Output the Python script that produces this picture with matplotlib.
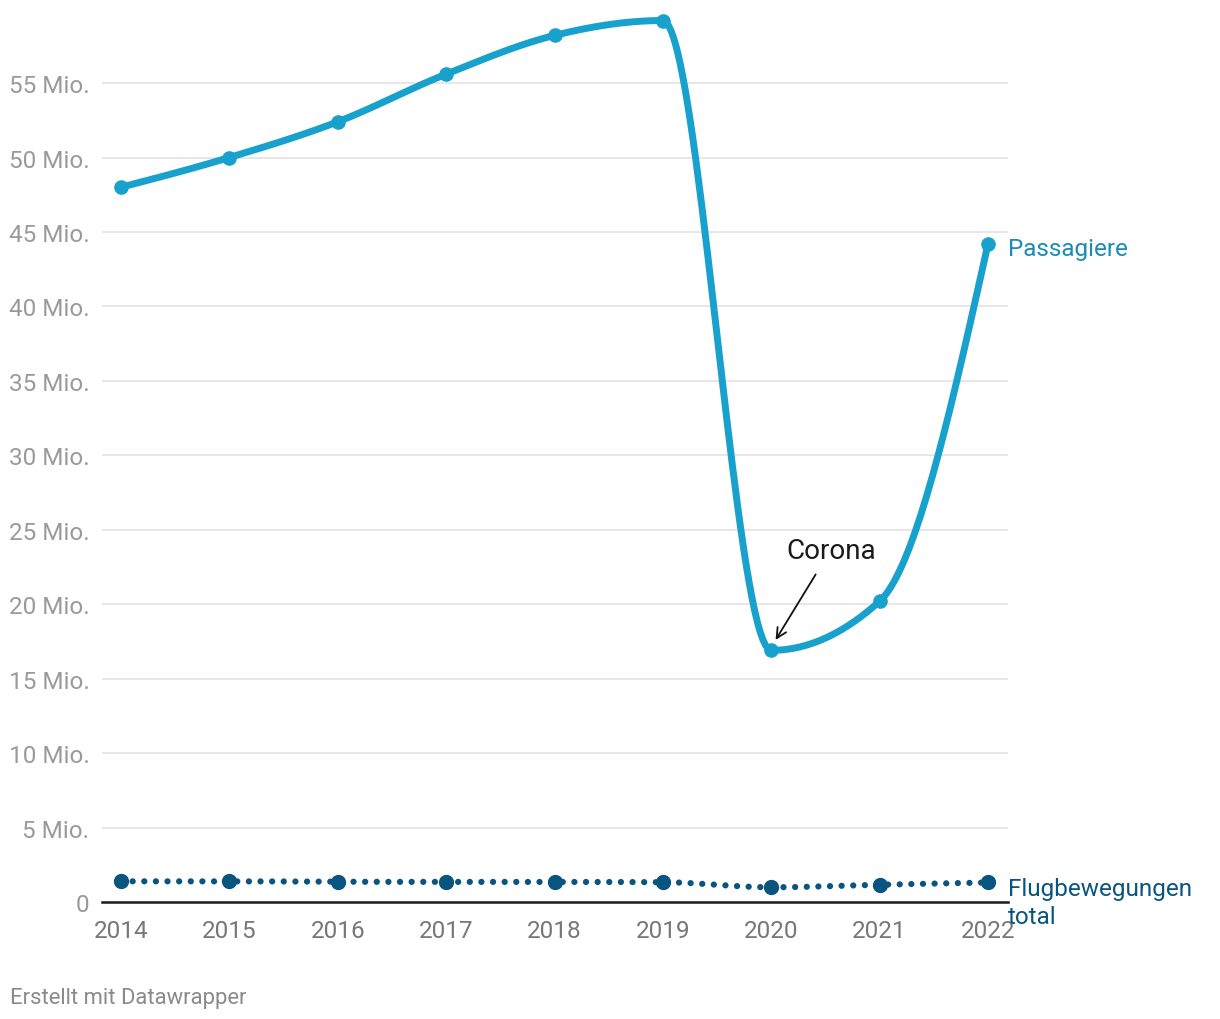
import matplotlib.pyplot as plt
import numpy as np

plt.rcParams['font.family'] = ['Roboto', 'DejaVu Sans']

# Daten (in Mio.)
years = [2014, 2015, 2016, 2017, 2018, 2019, 2020, 2021, 2022]
passagiere = [48.0, 50.0, 52.4, 55.6, 58.2, 59.2, 16.9, 20.2, 44.2]
flugbewegungen = [1.39, 1.39, 1.36, 1.35, 1.35, 1.33, 0.99, 1.16, 1.31]
y_ticks = [0, 5, 10, 15, 20, 25, 30, 35, 40, 45, 50, 55]
y_labels = ['0'] + [f'{v} Mio.' for v in y_ticks[1:]]

C_PASS = '#18a1cd'
C_PASS_TXT = '#1b8cb6'
C_FLUG = '#09557f'
FS = 17.5


def monotone_x(x, y, n=40):
    # wie d3.curveMonotoneX
    x = np.asarray(x, float)
    y = np.asarray(y, float)
    h = np.diff(x)
    s = np.diff(y) / h
    t = np.zeros(len(x))
    for i in range(1, len(x) - 1):
        p = (s[i - 1] * h[i] + s[i] * h[i - 1]) / (h[i - 1] + h[i])
        t[i] = (np.sign(s[i - 1]) + np.sign(s[i])) * min(abs(s[i - 1]), abs(s[i]), 0.5 * abs(p))
    t[0] = (3 * s[0] - t[1]) / 2
    t[-1] = (3 * s[-1] - t[-2]) / 2
    xs, ys = [], []
    for i in range(len(x) - 1):
        u = np.linspace(0, 1, n)
        dx = h[i]
        p0 = np.array([x[i], y[i]])
        p1 = np.array([x[i] + dx / 3, y[i] + dx * t[i] / 3])
        p2 = np.array([x[i + 1] - dx / 3, y[i + 1] - dx * t[i + 1] / 3])
        p3 = np.array([x[i + 1], y[i + 1]])
        b = ((1 - u) ** 3)[:, None] * p0 + (3 * (1 - u) ** 2 * u)[:, None] * p1 \
            + (3 * (1 - u) * u ** 2)[:, None] * p2 + (u ** 3)[:, None] * p3
        xs.extend(b[:, 0])
        ys.extend(b[:, 1])
    return np.array(xs), np.array(ys)


fig = plt.figure(figsize=(12.2, 10.2), dpi=100)
ax = fig.add_axes([102 / 1220, (1020 - 903) / 1020, (1008 - 102) / 1220, 893.4 / 1020])
ax.set_xlim(2014 - 19 / 108.375, 2022 + 20 / 108.375)
ax.set_ylim(0, 60)

for v in y_ticks[1:]:
    ax.axhline(v, color='#e3e3e3', lw=1.2, zorder=0)
ax.axhline(0, color='#1a1a1a', lw=1.8, zorder=1, clip_on=False)

for s in ax.spines.values():
    s.set_visible(False)
ax.set_yticks(y_ticks)
ax.set_yticklabels(y_labels)
ax.set_xticks(years)
ax.tick_params(axis='y', length=0, pad=9, labelsize=FS, labelcolor='#9a9a9a')
ax.tick_params(axis='x', length=0, pad=12.5, labelsize=FS, labelcolor='#777777')

# Passagiere
xs, ys = monotone_x(years, passagiere)
ax.plot(xs, ys, color=C_PASS, lw=5, solid_capstyle='round', zorder=3)
ax.plot(years, passagiere, 'o', color=C_PASS, ms=9.5, zorder=4)

# Flugbewegungen (gepunktet)
xs, ys = monotone_x(years, flugbewegungen)
ax.plot(xs, ys, color=C_FLUG, lw=4.5, ls=(0, (0.01, 1.85)), dash_capstyle='round',
        zorder=3, clip_on=False)
ax.plot(years, flugbewegungen, 'o', color=C_FLUG, ms=10, zorder=4, clip_on=False)

# Beschriftungen rechts
ax.text(2022.185, passagiere[-1] - 0.3, 'Passagiere', color=C_PASS_TXT, fontsize=FS,
        va='center', ha='left', clip_on=False)
ax.text(2022.185, flugbewegungen[-1] + 0.4, 'Flugbewegungen\ntotal', color=C_FLUG, fontsize=FS,
        va='top', ha='left', linespacing=1.3, clip_on=False)

# Corona-Annotation
ax.annotate('', xy=(2020.04, 17.6), xytext=(2020.41, 22.0),
            arrowprops=dict(arrowstyle='->', color='#111111', lw=1.3,
                            mutation_scale=18, shrinkA=0, shrinkB=0))
ax.text(2020.55, 23.6, 'Corona', color='#1a1a1a', fontsize=20, ha='center', va='center')

fig.text(10 / 1220, 1 - 999 / 1020, 'Erstellt mit Datawrapper', color='#8a8a8a',
         fontsize=15.8, ha='left', va='center')

fig.savefig('out.png', dpi=100)
